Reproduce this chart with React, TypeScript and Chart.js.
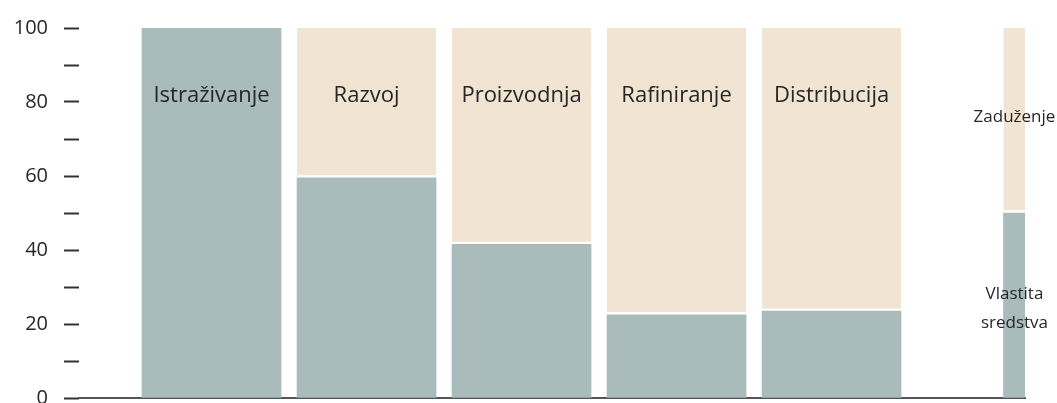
import React, { useEffect, useRef } from "react";
import { Chart, registerables } from "chart.js";

Chart.register(...registerables);

const categories = ["Istraživanje", "Razvoj", "Proizvodnja", "Rafiniranje", "Distribucija"];
const categoryX = [0, 1, 2, 3, 4];
const ownFunds = [100, 59.5, 41.5, 22.5, 23.5];
const debt = [0, 40.5, 58.5, 77.5, 76.5];

const legendX = 5.18;
const legendOwn = 50;
const legendDebt = 50;
const legendOwnLabel = ["Vlastita", "sredstva"];
const legendDebtLabel = "Zaduženje";

const yTicks = { min: 0, max: 100, step: 10, labelEvery: 20 };

const OWN_COLOR = "#aabbbb";
const DEBT_COLOR = "#f1e4d2";
const TEXT_COLOR = "#262626";
const FONT = "'Open Sans', 'Noto Sans', sans-serif";

const labelsPlugin = {
  id: "barLabels",
  afterDatasetsDraw(chart: any) {
    const { ctx, scales } = chart;
    const x = scales.x;
    const y = scales.y;
    ctx.save();
    ctx.fillStyle = TEXT_COLOR;
    ctx.textAlign = "center";
    ctx.textBaseline = "alphabetic";
    ctx.font = `22px ${FONT}`;
    categories.forEach((c, i) => {
      ctx.fillText(c, x.getPixelForValue(categoryX[i]), y.getPixelForValue(80.0));
    });
    ctx.font = `17px ${FONT}`;
    const lx = x.getPixelForValue(legendX);
    ctx.fillText(legendDebtLabel, lx, y.getPixelForValue(74.6));
    ctx.fillText(legendOwnLabel[0], lx, y.getPixelForValue(26.8));
    ctx.fillText(legendOwnLabel[1], lx, y.getPixelForValue(18.9));
    ctx.restore();
  },
};

export default function App() {
  const ref = useRef<HTMLCanvasElement>(null);
  useEffect(() => {
    document.body.style.margin = "0";
    const canvas = ref.current!;
    const chart = new Chart(canvas, {
      type: "bar",
      data: {
        datasets: [
          {
            label: "Vlastita sredstva",
            data: categoryX.map((x, i) => ({ x, y: ownFunds[i] })),
            backgroundColor: OWN_COLOR,
            barThickness: 139,
            stack: "s",
            borderWidth: 0,
          },
          {
            label: "Zaduženje",
            data: categoryX.map((x, i) => ({ x, y: debt[i] })),
            backgroundColor: DEBT_COLOR,
            borderColor: "#ffffff",
            borderWidth: { top: 0, left: 0, right: 0, bottom: 3 },
            borderSkipped: false,
            barThickness: 139,
            stack: "s",
          },
          {
            label: "legend own",
            data: [{ x: legendX, y: legendOwn }],
            backgroundColor: OWN_COLOR,
            barThickness: 22,
            stack: "s",
            borderWidth: 0,
          },
          {
            label: "legend debt",
            data: [{ x: legendX, y: legendDebt }],
            backgroundColor: DEBT_COLOR,
            borderColor: "#ffffff",
            borderWidth: { top: 0, left: 0, right: 0, bottom: 3 },
            borderSkipped: false,
            barThickness: 22,
            stack: "s",
          },
        ],
      } as any,
      options: {
        animation: false,
        responsive: false,
        maintainAspectRatio: false,
        layout: { padding: { top: 28, bottom: 5, right: 32, left: 0 } },
        plugins: { legend: { display: false }, tooltip: { enabled: false } },
        scales: {
          x: {
            type: "linear",
            stacked: true,
            offset: false,
            min: -0.855,
            max: 5.248,
            ticks: { display: false },
            grid: { display: false, drawTicks: false },
            border: { display: true, color: "#555555", width: 2 },
            afterFit: (scale: any) => {
              scale.height = 0;
              scale.paddingLeft = 0;
              scale.paddingRight = 0;
            },
          },
          y: {
            stacked: true,
            min: yTicks.min,
            max: yTicks.max,
            ticks: {
              stepSize: yTicks.step,
              padding: 16,
              color: TEXT_COLOR,
              font: { family: FONT, size: 20 },
              callback: (v: any) => (Number(v) % yTicks.labelEvery === 0 ? String(v) : ""),
            },
            grid: {
              drawOnChartArea: false,
              drawTicks: true,
              tickLength: 15,
              tickWidth: 2,
              tickColor: "#333333",
            },
            border: { display: false },
            afterFit: (scale: any) => {
              scale.width = 79;
              scale.paddingTop = 0;
              scale.paddingBottom = 0;
            },
          },
        },
      } as any,
      plugins: [labelsPlugin],
    });
    return () => chart.destroy();
  }, []);
  return (
    <div style={{ position: "fixed", left: 0, top: 0, width: 1057, height: 403, background: "#fff" }}>
      <canvas ref={ref} width={1057} height={403} style={{ width: 1057, height: 403 }} />
    </div>
  );
}
